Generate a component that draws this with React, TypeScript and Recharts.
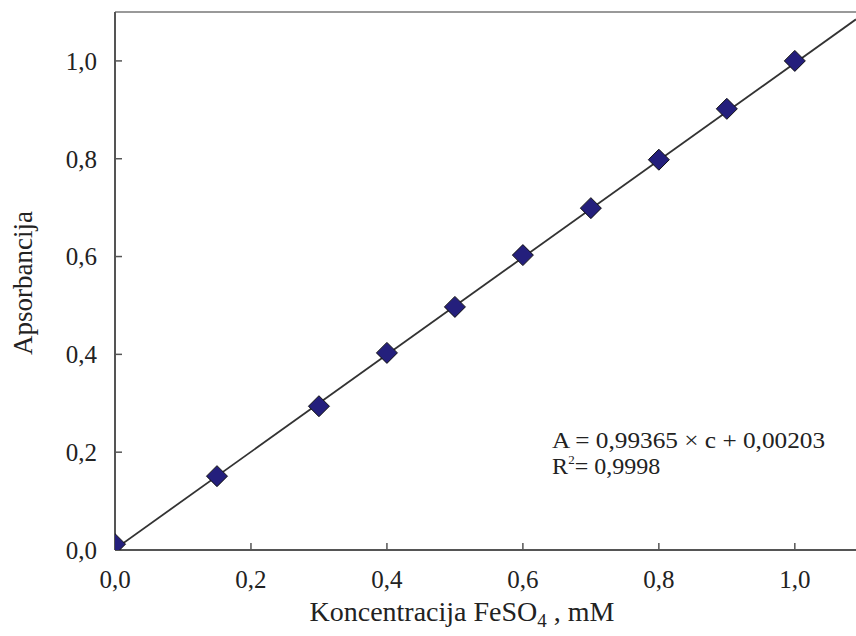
import { ComposedChart, Line, Scatter, XAxis, YAxis, ReferenceLine, ReferenceDot, Label } from "recharts";

// FeSO4 calibration points
const concentration = [0, 0.15, 0.3, 0.4, 0.5, 0.6, 0.7, 0.8, 0.9, 1.0];
const absorbance = [0.012, 0.151, 0.294, 0.403, 0.497, 0.603, 0.699, 0.798, 0.902, 1.0];

// regression line end points (A = 0.99365 c + 0.00203)
const fitC = [0, 1.09];
const fitA = [0.002, 1.085];

const xTicks = [0, 0.2, 0.4, 0.6, 0.8, 1.0];
const yTicks = [0, 0.2, 0.4, 0.6, 0.8, 1.0];

const FONT = "'Liberation Serif', 'Times New Roman', serif";
const AXIS = "#555";

const points = concentration.map((c, i) => ({ c, a: absorbance[i] }));
const fit = fitC.map((c, i) => ({ c, a: fitA[i] }));

const fmt = (v: number) => v.toFixed(1).replace(".", ",");

function Diamond(props: any) {
  const { cx, cy } = props;
  const r = 10.5;
  return (
    <polygon
      points={`${cx},${cy - r} ${cx + r},${cy} ${cx},${cy + r} ${cx - r},${cy}`}
      fill="#241f7c"
      stroke="#111"
      strokeWidth={1}
    />
  );
}

function Equation(props: any) {
  const { cx, cy } = props;
  return (
    <text x={cx} y={cy} fontFamily={FONT} fontSize={24} fill="#222">
      <tspan x={cx} y={cy} textLength={273} lengthAdjust="spacingAndGlyphs">A = 0,99365 × c + 0,00203</tspan>
      <tspan x={cx} y={cy + 26}>R</tspan>
      <tspan dy={-10} fontSize={13}>2</tspan>
      <tspan dy={10}>= 0,9998</tspan>
    </text>
  );
}

export default function App() {
  return (
    <div style={{ position: "absolute", left: 0, top: 0, width: 856, height: 636, background: "#fff" }}>
      <ComposedChart width={856} height={636} margin={{ top: 12, right: 0, left: 0, bottom: 0 }}>
        <XAxis
          dataKey="c"
          type="number"
          domain={[0, 1.09]}
          ticks={xTicks}
          tickFormatter={fmt}
          height={86}
          axisLine={{ stroke: AXIS, strokeWidth: 2 }}
          tickLine={{ stroke: AXIS, strokeWidth: 1.5 }}
          tickSize={-7}
          tickMargin={27}
          tick={{ fontFamily: FONT, fontSize: 25, fill: "#222" }}
          allowDataOverflow
        >
          <Label
            content={() => (
              <text x={462} y={621} textAnchor="middle" fontFamily={FONT} fontSize={28} fill="#222">
                Koncentracija FeSO<tspan dy={6} fontSize={19}>4</tspan>
                <tspan dy={-6}> , mM</tspan>
              </text>
            )}
          />
        </XAxis>
        <YAxis
          type="number"
          domain={[0, 1.1]}
          ticks={yTicks}
          tickFormatter={fmt}
          width={115}
          axisLine={{ stroke: AXIS, strokeWidth: 2 }}
          tickLine={{ stroke: AXIS, strokeWidth: 1.5 }}
          tickSize={-7}
          tickMargin={25}
          tick={{ fontFamily: FONT, fontSize: 25, fill: "#222" }}
          allowDataOverflow
        >
          <Label
            content={() => (
              <text
                x={23}
                y={283}
                transform="rotate(-90 23 283)"
                textAnchor="middle"
                dominantBaseline="central"
                fontFamily={FONT}
                fontSize={27}
                fill="#222"
              >
                Apsorbancija
              </text>
            )}
          />
        </YAxis>
        <ReferenceLine y={1.1} stroke="#777" strokeWidth={1.5} ifOverflow="visible" />
        <Line
          data={fit}
          dataKey="a"
          type="linear"
          stroke="#333"
          strokeWidth={1.8}
          dot={false}
          activeDot={false}
          isAnimationActive={false}
        />
        <Scatter data={points} dataKey="a" shape={<Diamond />} isAnimationActive={false} />
        <ReferenceDot x={0.643} y={0.208} ifOverflow="visible" shape={<Equation />} />
      </ComposedChart>
    </div>
  );
}
